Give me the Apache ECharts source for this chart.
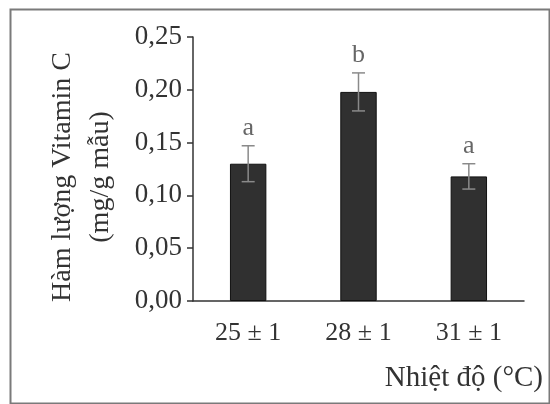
<!DOCTYPE html>
<html>
<head>
<meta charset="utf-8">
<script src="https://cdn.jsdelivr.net/npm/echarts@6/dist/echarts.min.js"></script>
<style>html,body{margin:0;padding:0;background:#fff}#c{width:550px;height:404px}</style>
</head>
<body>
<div id="c"></div>
<script>
const categories = ['25 ± 1', '28 ± 1', '31 ± 1'];
const values = [0.130, 0.198, 0.118];
const errors = [0.017, 0.018, 0.012];
const letters = ['a', 'b', 'a'];
const yTicks = [0, 0.05, 0.10, 0.15, 0.20, 0.25];

const FONT = 'Liberation Serif, Times New Roman, serif';
const chart = echarts.init(document.getElementById('c'), null, {renderer: 'canvas'});

const errData = values.map((v, i) => [i, v, errors[i], letters[i]]);

chart.setOption({
  animation: false,
  backgroundColor: '#fff',
  graphic: [{
    type: 'rect', left: 8, top: 7,
    shape: {width: 539, height: 394},
    style: {fill: 'none', stroke: '#7a7a7a', lineWidth: 2}
  }],
  grid: {left: 193, right: 26, top: 37, bottom: 103, containLabel: false},
  xAxis: {
    type: 'category',
    data: categories,
    name: 'Nhiệt độ (°C)',
    nameLocation: 'end',
    nameGap: 19,
    nameTextStyle: {fontFamily: FONT, fontSize: 29, color: '#333', align: 'right', verticalAlign: 'top', padding: [63, 0, 0, 0]},
    axisLine: {lineStyle: {color: '#333', width: 1.5}},
    axisTick: {show: false},
    axisLabel: {fontFamily: FONT, fontSize: 26, color: '#333', margin: 19}
  },
  yAxis: {
    type: 'value',
    min: 0, max: 0.25, interval: 0.05,
    name: 'Hàm lượng Vitamin C\n(mg/g mẫu)',
    nameLocation: 'middle',
    nameRotate: 90,
    nameGap: 73,
    nameTextStyle: {fontFamily: FONT, fontSize: 28, color: '#333', lineHeight: 38, padding: [0, 16, 0, 0]},
    axisLine: {show: true, lineStyle: {color: '#333', width: 1.5}},
    axisTick: {show: true, inside: false, length: 6, lineStyle: {color: '#333', width: 1.5}},
    splitLine: {show: false},
    axisLabel: {
      fontFamily: FONT, fontSize: 27, color: '#333', margin: 11,
      formatter: v => {
        const t = yTicks.find(x => Math.abs(x - v) < 1e-9);
        return (t !== undefined ? t : v).toFixed(2).replace('.', ',');
      }
    }
  },
  series: [{
    type: 'bar',
    data: values,
    barWidth: '33%',
    itemStyle: {color: '#303030', borderColor: '#111', borderWidth: 1}
  }, {
    type: 'custom',
    data: errData,
    z: 10,
    renderItem: function (params, api) {
      const i = api.value(0), v = api.value(1), e = api.value(2);
      const top = api.coord([i, v + e]);
      const bot = api.coord([i, v - e]);
      const hw = 6.5;
      const st = {stroke: '#8a8a8a', lineWidth: 1.5};
      return {
        type: 'group',
        children: [
          {type: 'line', shape: {x1: top[0], y1: top[1], x2: bot[0], y2: bot[1]}, style: st},
          {type: 'line', shape: {x1: top[0] - hw, y1: top[1], x2: top[0] + hw, y2: top[1]}, style: st},
          {type: 'line', shape: {x1: bot[0] - hw, y1: bot[1], x2: bot[0] + hw, y2: bot[1]}, style: st},
          {type: 'text', x: top[0], y: top[1] - 18,
           style: {text: letters[params.dataIndex], fontFamily: FONT, fontSize: 26, fill: '#666', align: 'center', verticalAlign: 'middle'}}
        ]
      };
    }
  }]
});
</script>
</body>
</html>
